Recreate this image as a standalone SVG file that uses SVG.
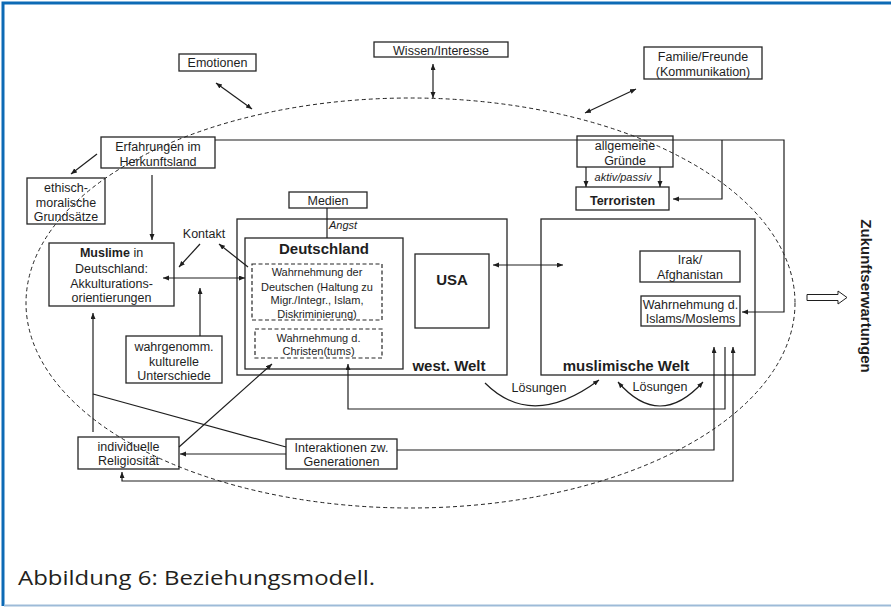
<svg xmlns="http://www.w3.org/2000/svg" width="891" height="608" viewBox="0 0 891 608">
<style>
.b{fill:none;stroke:#262626;stroke-width:1.3}
.d{fill:none;stroke:#262626;stroke-width:1.2;stroke-dasharray:4 2.5}
.c{fill:none;stroke:#1e1e1e;stroke-width:1.2}
.t{font-family:"Liberation Sans",Arial,sans-serif;font-size:12.5px;fill:#1e1e1e;text-anchor:middle}
.s{font-size:11px}
.i{font-style:italic;font-size:11px}
.bb{font-weight:bold;font-size:15px}
</style>
<defs>
<marker id="a" markerUnits="userSpaceOnUse" markerWidth="7" markerHeight="6" refX="6" refY="2.5" orient="auto-start-reverse"><path d="M0,0 L6,2.5 L0,5 z" fill="#1e1e1e"/></marker>
</defs>
<rect width="891" height="608" fill="#fff"/>
<path d="M3,606 V3 H891" fill="none" stroke="#0d6ab5" stroke-width="3"/>
<path d="M4,605.5 H891" fill="none" stroke="#9dbbd8" stroke-width="2"/>

<ellipse cx="410.5" cy="303" rx="384.5" ry="205" fill="none" stroke="#222" stroke-width="1" stroke-dasharray="4 3"/>

<g id="emotionen"><rect class="b" x="179" y="54" width="77" height="17"/><text class="t" x="217.5" y="67">Emotionen</text></g>
<g id="wissen"><rect class="b" x="374" y="42" width="134" height="15"/><text class="t" x="441" y="54.5">Wissen/Interesse</text></g>
<g id="familie"><rect class="b" x="644" y="47" width="118" height="32"/><text class="t" x="703" y="60.5">Familie/Freunde</text><text class="t" x="703" y="76">(Kommunikation)</text></g>
<g id="erfahrungen"><rect class="b" x="101" y="137" width="114" height="31"/><text class="t" x="158" y="150.5">Erfahrungen im</text><text class="t" x="158" y="165.5">Herkunftsland</text></g>
<g id="gruende"><rect class="b" x="577" y="136" width="96" height="31"/><text class="t" x="625" y="149.5">allgemeine</text><text class="t" x="625" y="164.5">Gründe</text></g>
<g id="terroristen"><rect class="b" x="576" y="187" width="93" height="23"/><text class="t" x="622.5" y="205" font-weight="bold">Terroristen</text></g>
<g id="ethisch"><rect class="b" x="27" y="178" width="78" height="46"/><text class="t" x="66" y="191.5">ethisch-</text><text class="t" x="66" y="206.5">moralische</text><text class="t" x="66" y="221">Grundsätze</text></g>
<g id="medien"><rect class="b" x="289" y="192" width="78" height="16"/><text class="t" x="328" y="204.5">Medien</text></g>
<g id="muslime"><rect class="b" x="49" y="243" width="125" height="63"/><text class="t" x="111.5" y="256.5" font-size="13"><tspan font-weight="bold">Muslime</tspan> in</text><text class="t" x="111.5" y="272.5" font-size="13">Deutschland:</text><text class="t" x="111.5" y="287.5" font-size="13">Akkulturations-</text><text class="t" x="111.5" y="301.5" font-size="13">orientierungen</text></g>
<g id="kontakt"><text class="t" x="204" y="237.5">Kontakt</text></g>
<g id="wahrgenomm"><rect class="b" x="126" y="336" width="96" height="47"/><text class="t" x="174" y="350.5">wahrgenomm.</text><text class="t" x="174" y="365.5">kulturelle</text><text class="t" x="174" y="380">Unterschiede</text></g>
<g id="individuelle"><rect class="b" x="78" y="437" width="101" height="32"/><text class="t" x="128.5" y="450.5">individuelle</text><text class="t" x="128.5" y="464.5">Religiosität</text></g>
<g id="interaktionen"><rect class="b" x="286" y="439" width="111" height="30"/><text class="t" x="341.5" y="451.5">Interaktionen zw.</text><text class="t" x="341.5" y="465.5">Generationen</text></g>
<g id="westwelt"><rect class="b" x="237" y="219" width="270" height="156"/><text class="t bb" x="449" y="371">west. Welt</text></g>
<g id="deutschland"><rect class="b" x="245" y="238" width="158" height="131"/><text class="t bb" x="324" y="253.5">Deutschland</text></g>
<g id="angst"><text class="t i" x="343" y="229">Angst</text></g>
<g id="wahrnDeutsche"><rect class="d" x="252" y="264" width="130" height="56"/><text class="t s" x="317" y="276">Wahrnehmung der</text><text class="t s" x="317" y="290.5">Deutschen (Haltung zu</text><text class="t s" x="317" y="304">Migr./Integr., Islam,</text><text class="t s" x="317" y="317.5">Diskriminierung)</text></g>
<g id="wahrnChristen"><rect class="d" x="255" y="329" width="127" height="29"/><text class="t s" x="318.5" y="341.5">Wahrnehmung d.</text><text class="t s" x="318.5" y="355">Christen(tums)</text></g>
<g id="usa"><rect class="b" x="415" y="254" width="74" height="74"/><text class="t bb" x="452" y="284.5">USA</text></g>
<g id="muslimWelt"><rect class="b" x="541" y="219" width="214" height="156"/><text class="t bb" x="626" y="371">muslimische Welt</text></g>
<g id="irak"><rect class="b" x="640" y="251" width="100" height="31"/><text class="t" x="690" y="263.5">Irak/</text><text class="t" x="690" y="278.5">Afghanistan</text></g>
<g id="wahrnIslam"><rect class="b" x="641" y="296" width="99" height="30"/><text class="t" x="690.5" y="308.5">Wahrnehmung d.</text><text class="t" x="690.5" y="322.5">Islams/Moslems</text></g>
<g id="aktiv"><text class="t i" x="623" y="181">aktiv/passiv</text></g>
<g id="zukunft"><polygon points="807,294.5 838,294.5 838,291 847,297.5 838,304 838,300.5 807,300.5" fill="#fff" stroke="#1e1e1e" stroke-width="1"/><text class="t bb" transform="translate(861,296) rotate(90)" x="0" y="0">Zukunftserwartungen</text></g>

<g id="connectors">
<path class="c" d="M216,83 L252,109" marker-start="url(#a)" marker-end="url(#a)"/>
<path class="c" d="M433,64 V98" marker-start="url(#a)" marker-end="url(#a)"/>
<path class="c" d="M585,113 L636,89" marker-start="url(#a)" marker-end="url(#a)"/>
<path class="c" d="M97,154 L71,174" marker-end="url(#a)"/>
<path class="c" d="M152,175 V240" marker-end="url(#a)"/>
<path class="c" d="M215,140 H784 V312 H742" marker-end="url(#a)"/>
<path class="c" d="M722,140 V199 H673" marker-end="url(#a)"/>
<path class="c" d="M586,167 V187" marker-end="url(#a)"/>
<path class="c" d="M660,167 V187" marker-end="url(#a)"/>
<path class="c" d="M327,208 V238"/>
<path class="c" d="M200,244 L179,267" marker-end="url(#a)"/>
<path class="c" d="M248,267 L219,244" marker-end="url(#a)"/>
<path class="c" d="M163,278 H245" marker-start="url(#a)" marker-end="url(#a)"/>
<path class="c" d="M200,336 V288" marker-end="url(#a)"/>
<path class="c" d="M93,432 V313" marker-end="url(#a)"/>
<path class="c" d="M93,394 L286,447"/>
<path class="c" d="M286,454 H180" marker-end="url(#a)"/>
<path class="c" d="M179,447 L272,364" marker-end="url(#a)"/>
<path class="c" d="M397,450 H714 V347" marker-end="url(#a)"/>
<path class="c" d="M725,347 V409 H348 V364" marker-end="url(#a)"/>
<path class="c" d="M733,347 V481 H122 V472" marker-start="url(#a)" marker-end="url(#a)"/>
<path class="c" d="M493,265 H563" marker-start="url(#a)" marker-end="url(#a)"/>
<path class="c" d="M485,383 Q532,430 599,380" marker-end="url(#a)"/>
<path class="c" d="M618,382 Q659.5,430 703,382" marker-start="url(#a)" marker-end="url(#a)"/>
<text class="t" x="539" y="391.5">Lösungen</text>
<text class="t" x="660" y="390.5">Lösungen</text>
</g>

<text x="18" y="585" font-family="'Open Sans','Noto Sans',sans-serif" font-size="20" fill="#231f20" textLength="357" lengthAdjust="spacingAndGlyphs">Abbildung 6: Beziehungsmodell.</text>
</svg>
